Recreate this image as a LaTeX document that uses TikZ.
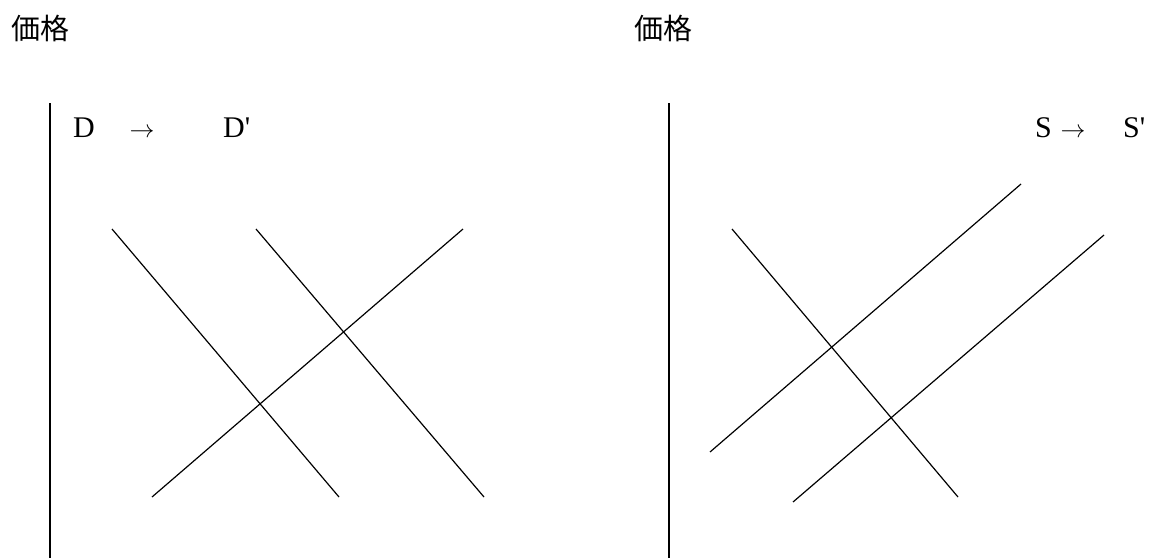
\documentclass[tikz,border=0pt]{standalone}
\usepackage{fontspec}
\setmainfont{Liberation Serif}
\newfontfamily\cjk{Noto Sans CJK JP}
\begin{document}
\begin{tikzpicture}[x=1pt,y=-1pt,
  axisline/.style={line width=2.2pt},
  curve/.style={line width=1.2pt},
  lbl/.style={inner sep=0pt,font=\fontsize{30}{34}\selectfont},
  ttl/.style={inner sep=0pt,font=\cjk\fontsize{29}{33}\selectfont}]
\useasboundingbox (0,0) rectangle (1150,558);
% titles
\node[ttl] (t1) at (40,28) {価格};
\node[ttl] (t2) at (663,28) {価格};
% axes
\coordinate (a1t) at (50,103);
\coordinate (a1b) at (50,558);
\coordinate (a2t) at (669,103);
\coordinate (a2b) at (669,558);
\draw[axisline] (a1t) -- (a1b);
\draw[axisline] (a2t) -- (a2b);
% left labels
\node[lbl,anchor=base west] (d) at (73,137) {D};
\node[lbl,anchor=base] (dar) at (142,137) {$\rightarrow$};
\node[lbl,anchor=base west] (dp) at (223,137) {D\textquotesingle};
% right labels
\node[lbl,anchor=base west] (s) at (1035,137) {S};
\node[lbl,anchor=base] (sar) at (1073,137) {$\rightarrow$};
\node[lbl,anchor=base west] (sp) at (1123,137) {S\textquotesingle};
% left curves
\coordinate (d1a) at (112,229); \coordinate (d1b) at (339,497);
\coordinate (d2a) at (256,229); \coordinate (d2b) at (484,497);
\coordinate (s0a) at (152,497); \coordinate (s0b) at (463,229);
\draw[curve] (d1a) -- (d1b);
\draw[curve] (d2a) -- (d2b);
\draw[curve] (s0a) -- (s0b);
% right curves
\coordinate (d3a) at (732,229); \coordinate (d3b) at (958,497);
\coordinate (s1a) at (710,452); \coordinate (s1b) at (1021,184);
\coordinate (s2a) at (793,502); \coordinate (s2b) at (1104,235);
\draw[curve] (d3a) -- (d3b);
\draw[curve] (s1a) -- (s1b);
\draw[curve] (s2a) -- (s2b);
\end{tikzpicture}
\end{document}
